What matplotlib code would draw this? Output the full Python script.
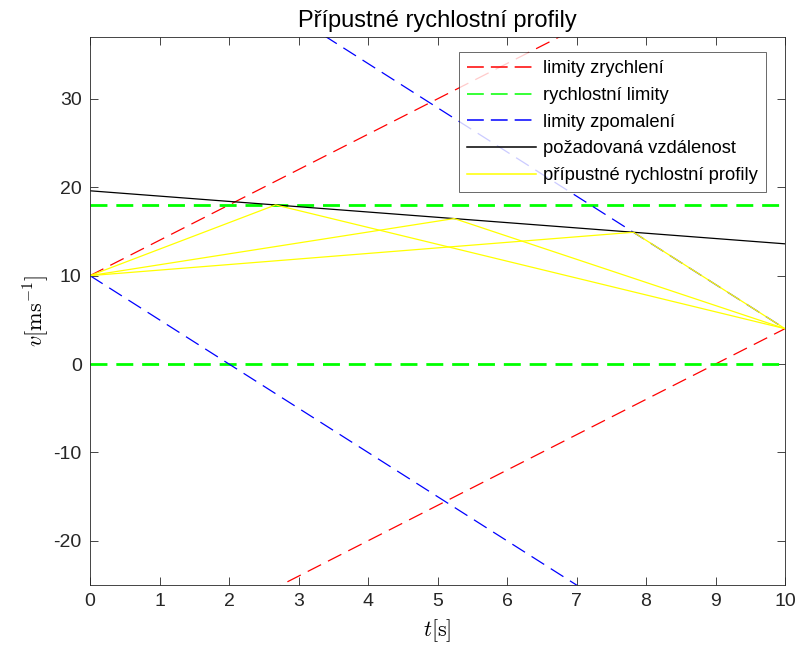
import matplotlib
matplotlib.use("Agg")
import matplotlib.pyplot as plt
from matplotlib.lines import Line2D
import numpy as np

# ---- data ----
t_range = [0, 10]
v_start = 10.0
v_end = 4.0
accel_limit = 4.0      # ms^-2
decel_limit = 5.0      # ms^-2
speed_limits = [0, 18]
required_v = [19.6, 13.6]          # vertex velocity line at t = 0 and t = 10
profile_tm = [2.67, 5.24, 7.82]    # times of profile peaks
profile_vm = [18.0, 16.46, 14.91]  # peak velocities

labels = ["limity zrychlení", "rychlostní limity", "limity zpomalení",
          "požadovaná vzdálenost", "přípustné rychlostní profily"]
xticks = list(range(0, 11))
yticks = [-20, -10, 0, 10, 20, 30]

plt.rcParams['font.family'] = ['Liberation Sans', 'DejaVu Sans']
plt.rcParams['mathtext.fontset'] = 'cm'
plt.rcParams['axes.unicode_minus'] = False

fig = plt.figure(figsize=(7.97, 6.53), dpi=100)
ax = fig.add_axes([90/797, 1-585/653, (785-90)/797, (585-37)/653])

t = np.array(t_range, dtype=float)
lw = 0.9
dash = (0, (12, 6.2))
gdash = (0, (6.1, 3.2))
RED, GREEN, BLUE, YEL = '#ff0000', '#00ff00', '#0000ff', '#ffff00'
# acceleration limits
ax.plot(t, v_start + accel_limit*(t - t[0]), color=RED, ls=dash, lw=lw)
ax.plot(t, v_end + accel_limit*(t - t[1]), color=RED, ls=dash, lw=lw)
# speed limits
for s in speed_limits:
    ax.plot(t, [s, s], color=GREEN, ls=gdash, lw=2.0)
# deceleration limits
ax.plot(t, v_start - decel_limit*(t - t[0]), color=BLUE, ls=dash, lw=lw)
ax.plot(t, v_end - decel_limit*(t - t[1]), color=BLUE, ls=dash, lw=lw)
# required distance line
ax.plot(t, required_v, color='black', lw=lw)
# admissible profiles
for tm, vm in zip(profile_tm, profile_vm):
    ax.plot([t_range[0], tm, t_range[1]], [v_start, vm, v_end], color=YEL, lw=lw)

ax.set_xlim(0, 10)
ax.set_ylim(-25, 37)
ax.set_xticks(xticks)
ax.set_yticks(yticks)
ax.tick_params(direction='in', top=True, right=True, length=6, width=0.6,
               labelsize=14, colors='#262626', pad=6)
for sp in ax.spines.values():
    sp.set_color('#262626')
    sp.set_linewidth(0.6)

ax.set_title("Přípustné rychlostní profily", fontsize=17, pad=7)
ax.set_xlabel(r"$t[\mathrm{s}]$", fontsize=16, labelpad=5)
ax.set_ylabel(r"$v[\mathrm{ms}^{-1}]$", fontsize=16, labelpad=2)

ldash = (0, (11, 4.6))
hlw = 1.1
handles = [Line2D([], [], color=RED, ls=ldash, lw=hlw),
           Line2D([], [], color=GREEN, ls=ldash, lw=hlw),
           Line2D([], [], color=BLUE, ls=ldash, lw=hlw),
           Line2D([], [], color='black', lw=hlw),
           Line2D([], [], color=YEL, lw=hlw)]
leg = ax.legend(handles, labels, loc='upper right', bbox_to_anchor=(0.9727, 0.9727),
                fontsize=13.2, frameon=True, fancybox=False, handlelength=3.8,
                handletextpad=0.35, labelspacing=0.53, borderpad=0.45, borderaxespad=0)
leg.get_frame().set_edgecolor('#262626')
leg.get_frame().set_linewidth(0.6)

fig.savefig("out.png", dpi=100)
